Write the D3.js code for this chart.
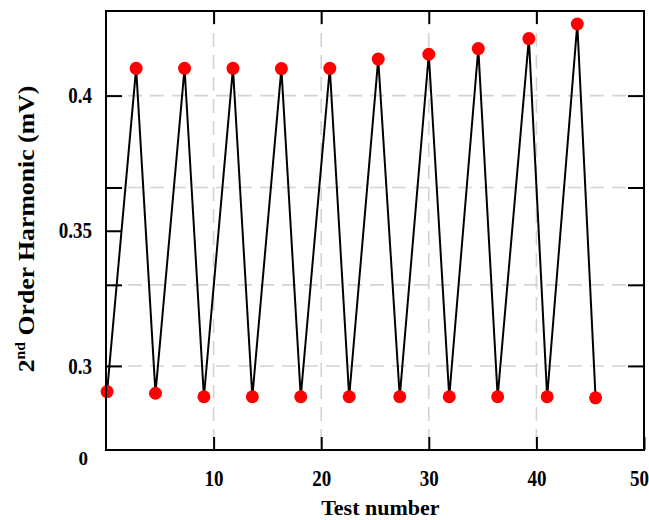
<!DOCTYPE html>
<html>
<head>
<meta charset="utf-8">
<script src="https://cdn.jsdelivr.net/npm/d3@7"></script>
<style>
  body { margin: 0; background: #fff; }
  svg { display: block; font-family: "Liberation Serif", "Times New Roman", serif; font-weight: bold; }
</style>
</head>
<body>
<svg id="chart" width="649" height="520"></svg>
<script>
// values
const testNumber = [0.1, 2.8, 4.6, 7.3, 9.1, 11.8, 13.6, 16.3, 18.1, 20.8, 22.6,
  25.3, 27.3, 30.0, 31.9, 34.6, 36.4, 39.3, 41.0, 43.8, 45.5];
const harmonic = [0.2905, 0.4101, 0.2899, 0.4101, 0.2886, 0.4101, 0.2886, 0.4100, 0.2886, 0.4101, 0.2886,
  0.4135, 0.2886, 0.4153, 0.2886, 0.4174, 0.2886, 0.4211, 0.2886, 0.4265, 0.2882];

const xTicks = [10, 20, 30, 40, 50];
const yGrid = [0.3, 0.33, 0.366, 0.4];
const yLeftTicks = [0.3, 0.33, 0.35, 0.366, 0.4];
const yTickLabels = [0.3, 0.35, 0.4];

const svg = d3.select('#chart');
const margin = {top: 11, right: 5, bottom: 70, left: 106};
const width = 649 - margin.left - margin.right;
const height = 520 - margin.top - margin.bottom;

const x = d3.scaleLinear().domain([0, 50]).range([0, width]);
const y = d3.scaleLinear().domain([0.2689, 0.4313]).range([height, 0]);

const g = svg.append('g').attr('transform', `translate(${margin.left},${margin.top})`);

// dashed grid
const grid = g.append('g')
  .attr('stroke', '#d4d4d4')
  .attr('stroke-width', 1.6)
  .attr('stroke-dasharray', '14,8');

grid.selectAll('.gx')
  .data(xTicks.filter(d => d < 50))
  .join('line')
    .attr('class', 'gx')
    .attr('x1', d => x(d)).attr('x2', d => x(d))
    .attr('y1', 0).attr('y2', height);

grid.selectAll('.gy')
  .data(yGrid)
  .join('line')
    .attr('class', 'gy')
    .attr('x1', 0).attr('x2', width)
    .attr('y1', d => y(d)).attr('y2', d => y(d));

// series
const points = testNumber.map((t, i) => [t, harmonic[i]]);

g.append('path')
  .datum(points)
  .attr('fill', 'none')
  .attr('stroke', '#000')
  .attr('stroke-width', 2)
  .attr('stroke-linejoin', 'miter')
  .attr('d', d3.line().x(d => x(d[0])).y(d => y(d[1])));

g.append('g')
  .selectAll('circle')
  .data(points)
  .join('circle')
    .attr('cx', d => x(d[0]))
    .attr('cy', d => y(d[1]))
    .attr('r', 6.5)
    .attr('fill', '#ff0000');

// axes, ticks pointing inward
const fmt = d => yTickLabels.includes(d) ? String(d) : '';

const axisL = g.append('g')
  .call(d3.axisLeft(y).tickValues(yLeftTicks).tickSize(-16).tickPadding(14).tickFormat(fmt));

const axisR = g.append('g')
  .attr('transform', `translate(${width},0)`)
  .call(d3.axisRight(y).tickValues(yGrid).tickSize(-16).tickFormat(''));

const axisB = g.append('g')
  .attr('transform', `translate(0,${height})`)
  .call(d3.axisBottom(x).tickValues(xTicks).tickSize(-13).tickPadding(17).tickFormat(d3.format('d')));

const axisT = g.append('g')
  .call(d3.axisTop(x).tickValues(xTicks.filter(d => d < 50)).tickSize(-13).tickFormat(''));

[axisL, axisR, axisB, axisT].forEach(ax => {
  ax.select('.domain').remove();
  ax.selectAll('.tick line').attr('stroke', '#000').attr('stroke-width', 2);
  ax.selectAll('.tick text')
    .attr('fill', '#000')
    .attr('font-family', '"Liberation Serif", serif')
    .attr('font-weight', 'bold')
    .attr('font-size', 19)
    .attr('transform', 'scale(1,1.17)');
});

// last x label sits at the page edge; nudge it in
axisB.selectAll('.tick text').filter(d => d === 50).attr('dx', -5);

// the lone "0" at the lower-left corner
g.append('text')
  .attr('x', -18)
  .attr('y', height + 15)
  .attr('text-anchor', 'end')
  .attr('font-size', 19)
  .text('0');

// frame
g.append('rect')
  .attr('width', width)
  .attr('height', height)
  .attr('fill', 'none')
  .attr('stroke', '#000')
  .attr('stroke-width', 2);

// axis titles
svg.append('text')
  .attr('x', margin.left + x(25.5))
  .attr('y', 515)
  .attr('text-anchor', 'middle')
  .attr('font-size', 22)
  .text('Test number');

const yTitle = svg.append('text')
  .attr('transform', 'translate(34,229) rotate(-90) scale(1.12,1)')
  .attr('text-anchor', 'middle')
  .attr('font-size', 23);
yTitle.append('tspan').text('2');
yTitle.append('tspan').attr('font-size', 14).attr('dy', -9).text('nd');
yTitle.append('tspan').attr('dy', 9).text('  Order Harmonic (mV)');
</script>
</body>
</html>
